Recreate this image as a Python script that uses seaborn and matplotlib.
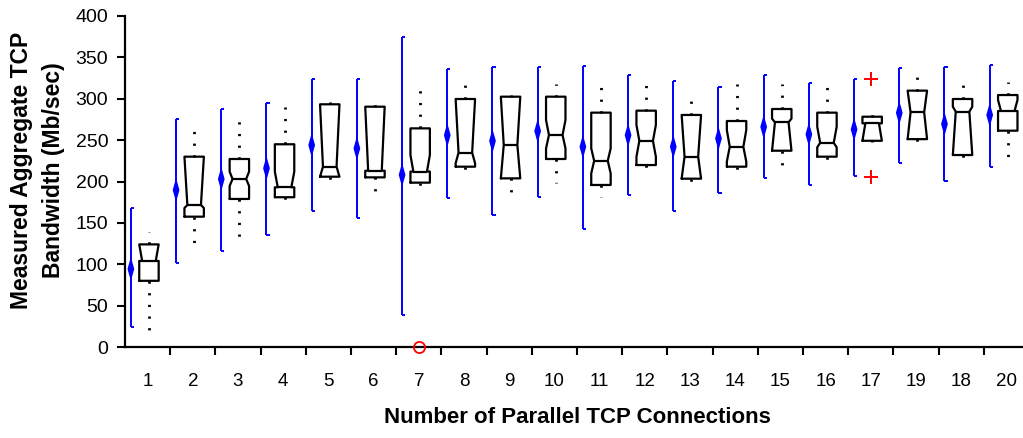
import numpy as np
import matplotlib
matplotlib.use("Agg")
import matplotlib.pyplot as plt
import seaborn as sns

# Number of parallel TCP connections (in the order they are plotted)
connections = ["1", "2", "3", "4", "5", "6", "7", "8", "9", "10",
               "11", "12", "13", "14", "15", "16", "17", "19", "18", "20"]

# Mean bandwidth and its spread (blue bracket + diamond), Mb/sec
mean_bw = [94.3, 189.7, 203, 216, 244, 240, 208, 256, 249, 261,
           242, 256, 242, 252, 266, 257, 263, 283, 269.5, 280.4]
spread_low = [24.6, 101.9, 116.4, 135.3, 164.7, 155.5, 38.7, 179.7, 159.5, 181.7,
              142.6, 183.7, 164.7, 186.5, 203.8, 195.8, 206.6, 222.7, 201, 217.9]
spread_high = [167.6, 275.5, 287.6, 295.2, 324, 324, 375, 336, 338.7, 338.7,
               339.6, 328.7, 321.9, 314.5, 328.7, 319.4, 323.9, 337.5, 338.7, 340.8]

# Notched box-plot statistics, Mb/sec
q1 = [80, 157.5, 178.9, 181, 205.8, 205, 198.6, 217.9, 203.8, 227.2,
      195.8, 219.9, 203.4, 217.9, 237.2, 230, 249.2, 251.2, 232, 261.4]
median = [104, 171.6, 203, 193, 217.9, 213, 212, 234.8, 244, 256.2,
          225, 249.2, 230, 242, 271.5, 246.8, 270.3, 283.6, 284.4, 285.2]
q3 = [124, 230, 227.2, 245, 293.3, 290.4, 264.2, 299.7, 302.5, 302.5,
      283.2, 285.6, 280.4, 273.1, 287.6, 283.2, 278.3, 309.8, 299.7, 304.5]
notch_low = [104, 168, 194.6, 193, 205.8, 213, 212, 222, 203.8, 240,
             209.8, 229.8, 203.4, 224, 237.2, 241.3, 249.2, 251.2, 232, 285.2]
notch_high = [124, 230, 211.9, 211.9, 293.3, 290.4, 232, 299.7, 302.5, 274.3,
              240, 268.3, 280.4, 262.2, 276, 266.2, 270.3, 309.8, 290.4, 298.5]
whisker_low = [18.5, 117.2, 125.3, 171.6, 195.8, 179.7, 191.8, 209.8, 183.7, 197.7,
               181.7, 211.9, 195.8, 213.9, 217.1, 216, 247.3, 244.1, 222.7, 222]
whisker_high = [139, 262.2, 274.3, 290.4, 296.5, 294.5, 310.6, 317.8, 305, 317.8,
                316.6, 317.8, 298.5, 318.4, 317.8, 313.8, 282.3, 327.5, 317.4, 319.9]

# Outliers: category label, value, marker
outlier_conn = ["7", "17", "17"]
outlier_value = [0, 323.9, 205.8]
outlier_marker = ["o", "+", "+"]

y_ticks = [0, 50, 100, 150, 200, 250, 300, 350, 400]

sns.set_theme(style="ticks")
plt.rcParams["font.family"] = ["Liberation Sans", "DejaVu Sans"]

fig = plt.figure(figsize=(10.23, 4.38), dpi=100)
ax = fig.add_axes([125 / 1023, 91 / 438, 904 / 1023, 331 / 438])

pos = np.arange(len(connections), dtype=float)
box_pos = pos + 0.03
box_w = 0.43
bar_pos = pos - 0.37

# Notched boxes
stats = []
for i, lab in enumerate(connections):
    stats.append(dict(label=lab, med=median[i], q1=q1[i], q3=q3[i],
                      cilo=notch_low[i], cihi=notch_high[i],
                      whislo=whisker_low[i], whishi=whisker_high[i], fliers=[]))
res = ax.bxp(stats, positions=box_pos, widths=box_w, shownotches=True,
             showcaps=False, showfliers=False, manage_ticks=False,
             boxprops=dict(color="black", linewidth=1.6),
             whiskerprops=dict(color="black", linewidth=2.0, linestyle=(0, (0.8, 3.4))),
             medianprops=dict(color="black", linewidth=1.6))
# Shallower notches than the default half-width waist
for i, (box, med) in enumerate(zip(res["boxes"], res["medians"])):
    xd = np.asarray(box.get_xdata(), dtype=float)
    c = box_pos[i]
    xd[3] = c + 0.35 * box_w
    xd[8] = c - 0.35 * box_w
    box.set_xdata(xd)
    med.set_xdata([c - 0.35 * box_w, c + 0.35 * box_w])

# Blue spread brackets with caps pointing right
ax.vlines(bar_pos, spread_low, spread_high, color="blue", linewidth=1.4)
ax.hlines(spread_low, bar_pos, bar_pos + 0.07, color="blue", linewidth=1.4)
ax.hlines(spread_high, bar_pos, bar_pos + 0.07, color="blue", linewidth=1.4)

# Tall thin diamonds at the means
diamond = [(0, 1), (0.28, 0), (0, -1), (-0.28, 0), (0, 1)]
sns.scatterplot(x=bar_pos, y=mean_bw, marker=diamond, s=300, color="blue",
                edgecolor="none", ax=ax, zorder=3)

# Outliers
idx = {lab: i for i, lab in enumerate(connections)}
for lab, val, mk in zip(outlier_conn, outlier_value, outlier_marker):
    x = box_pos[idx[lab]] - 0.03
    if mk == "o":
        ax.plot([x], [val], marker="o", markersize=8, markerfacecolor="none",
                markeredgecolor="red", markeredgewidth=1.3, clip_on=False, zorder=4)
    else:
        ax.plot([x], [val], marker="+", markersize=10, color="red",
                markeredgewidth=1.4, clip_on=False, zorder=4)

ax.set_xlim(-0.5, len(connections) - 0.5)
ax.set_ylim(0, 400)
ax.set_yticks(y_ticks)
ax.set_yticklabels([str(t) for t in y_ticks])
ax.set_xticks(pos)
ax.set_xticklabels(connections)
ax.set_xticks(np.arange(0.5, len(connections) - 0.5, 1.0), minor=True)
ax.tick_params(axis="x", which="major", length=0, pad=19, labelsize=13.5, colors="black")
ax.tick_params(axis="x", which="minor", length=6, width=1.5, direction="out", color="black")
ax.tick_params(axis="y", length=6, width=1.5, direction="out", pad=6, labelsize=14,
               colors="black")
ax.grid(False)
sns.despine(ax=ax)
for s in ("left", "bottom"):
    ax.spines[s].set_linewidth(1.6)
    ax.spines[s].set_color("black")

ax.set_xlabel("Number of Parallel TCP Connections", fontsize=16, fontweight="bold",
              color="black", va="center")
ax.xaxis.set_label_coords(0.5, -0.212)
ax.set_ylabel("Measured Aggregate TCP\nBandwidth (Mb/sec)", fontsize=16.5,
              fontweight="bold", color="black", va="center", linespacing=1.55)
ax.yaxis.set_label_coords(-0.0968, 0.535)

fig.savefig("out.png", dpi=100)
